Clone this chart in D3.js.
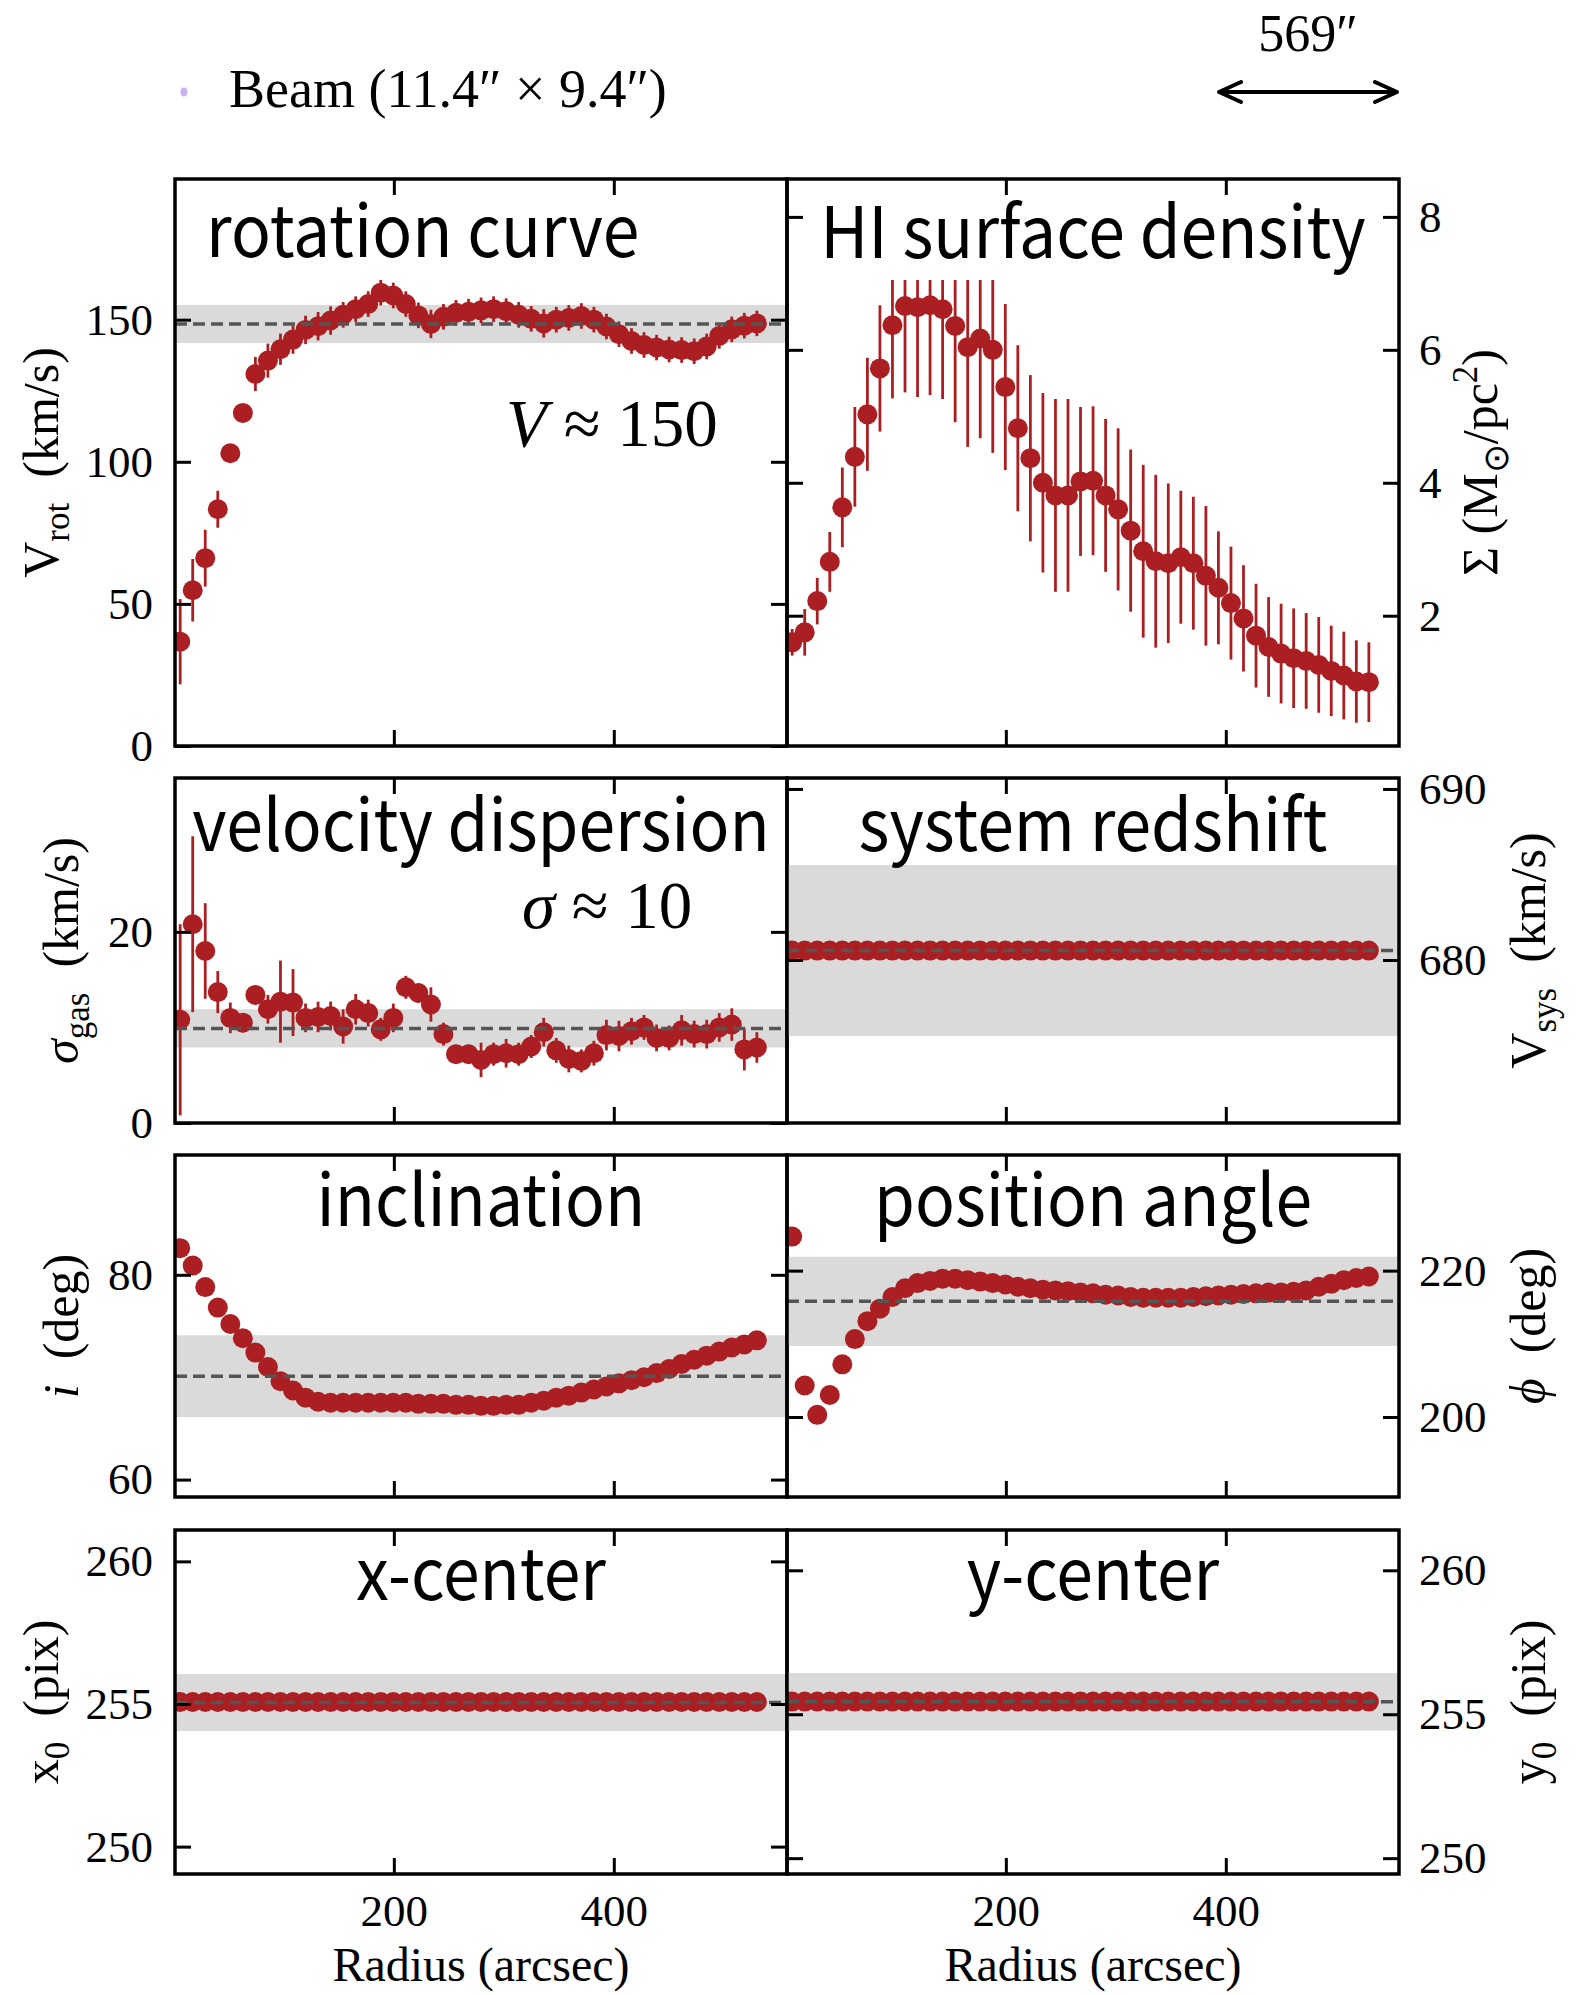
<!DOCTYPE html>
<html>
<head>
<meta charset="utf-8">
<script src="https://cdn.jsdelivr.net/npm/d3@7"></script>
<style>
  html, body { margin: 0; padding: 0; background: #ffffff; }
  svg { display: block; }
</style>
</head>
<body>
<svg id="fig" width="1580" height="1995"></svg>
<script>
// ---- ring radii (arcsec) ----
const radius = [5.7, 17.1, 28.5, 39.9, 51.3, 62.7, 74.1, 85.5, 96.9, 108.3,
  119.7, 131.1, 142.5, 153.9, 165.3, 176.7, 188.1, 199.5, 210.9, 222.3,
  233.7, 245.1, 256.5, 267.9, 279.3, 290.7, 302.1, 313.5, 324.9, 336.3,
  347.7, 359.1, 370.5, 381.9, 393.3, 404.7, 416.1, 427.5, 438.9, 450.3,
  461.7, 473.1, 484.5, 495.9, 507.3, 518.7, 530.1];

// ---- rotation curve (km/s) ----
const vRot = [36.7, 54.8, 66.1, 83.3, 103.0, 117.2, 130.9, 135.6, 139.6, 143.0,
  146.4, 147.7, 149.7, 151.7, 153.7, 155.5, 159.5, 158.5, 155.5, 151.5,
  148.5, 151.0, 152.4, 152.8, 153.3, 153.7, 153.0, 151.7, 150.3, 148.7,
  150.0, 150.6, 151.3, 150.0, 147.6, 144.9, 142.5, 141.1, 140.2, 139.5,
  139.3, 138.9, 140.6, 144.3, 146.6, 147.9, 148.7];
const vRotErr = [15, 11, 10, 6.5, 3, 3, 6, 6, 5.5, 5,
  5, 5, 5, 4.5, 4.5, 4.5, 4.5, 4.5, 4.5, 4.5,
  5, 4.5, 4.5, 4.5, 4.5, 4.5, 4.5, 4.5, 4.5, 5,
  4.5, 4.5, 4.5, 4.5, 4.5, 4.5, 4.5, 4.5, 4.5, 4.5,
  4.5, 4.5, 4.5, 4.5, 4.5, 4.5, 4.5];
const vRotFit = [148.5, 6.7];          // mean, half-width of shaded band

// ---- HI surface density (Msun/pc^2) ----
const sigmaHI = [1.60, 1.75, 2.22, 2.81, 3.63, 4.39, 5.03, 5.72, 6.37, 6.66,
  6.64, 6.67, 6.61, 6.36, 6.04, 6.17, 6.00, 5.44, 4.82, 4.37,
  4.00, 3.81, 3.81, 4.02, 4.03, 3.81, 3.60, 3.28, 2.97, 2.82,
  2.79, 2.88, 2.79, 2.60, 2.42, 2.19, 1.96, 1.70, 1.53, 1.43,
  1.36, 1.32, 1.26, 1.17, 1.10, 1.01, 1.00];
const sigmaHIErr = [0.2, 0.35, 0.35, 0.45, 0.6, 0.75, 0.85, 0.95, 1.1, 1.3,
  1.35, 1.35, 1.35, 1.45, 1.5, 1.5, 1.55, 1.25, 1.25, 1.25,
  1.35, 1.45, 1.45, 1.12, 1.12, 1.15, 1.22, 1.22, 1.3, 1.3,
  1.2, 1.0, 1.0, 1.05, 0.85, 0.85, 0.8, 0.78, 0.75, 0.75,
  0.75, 0.72, 0.72, 0.68, 0.66, 0.62, 0.6];
const sigmaHIErrCeiling = 7.05;

// ---- gas velocity dispersion (km/s) ----
const vDisp = [10.8, 20.8, 18.0, 13.7, 11.0, 10.5, 13.4, 11.9, 12.7, 12.6,
  11.0, 11.1, 11.2, 10.1, 11.9, 11.5, 9.8, 11.0, 14.2, 13.6,
  12.4, 9.3, 7.2, 7.2, 6.6, 7.2, 7.3, 7.2, 8.0, 9.5,
  7.6, 6.7, 6.5, 7.3, 9.2, 9.1, 9.6, 10.0, 8.9, 8.9,
  9.7, 9.3, 9.3, 10.0, 10.3, 7.7, 7.9];
const vDispErr = [10, 9.2, 5, 2.2, 1.6, 1.0, 1.0, 1.5, 4.3, 3.5,
  1.5, 1.6, 1.5, 1.8, 1.6, 1.4, 1.2, 1.5, 1.2, 1.0,
  1.8, 1.2, 1.0, 1.0, 1.8, 1.2, 1.5, 1.2, 1.2, 1.5,
  1.3, 1.4, 1.2, 1.3, 1.6, 1.6, 1.4, 1.3, 1.4, 1.3,
  1.6, 1.4, 1.5, 1.5, 1.7, 2.2, 1.6];
const vDispFit = [9.9, 2.0];

// ---- systemic velocity (km/s) ----
const vSys = [680.55, 680.55, 680.55, 680.55, 680.55, 680.55, 680.55, 680.55, 680.55, 680.55,
  680.55, 680.55, 680.55, 680.55, 680.55, 680.55, 680.55, 680.55, 680.55, 680.55,
  680.55, 680.55, 680.55, 680.55, 680.55, 680.55, 680.55, 680.55, 680.55, 680.55,
  680.55, 680.55, 680.55, 680.55, 680.55, 680.55, 680.55, 680.55, 680.55, 680.55,
  680.55, 680.55, 680.55, 680.55, 680.55, 680.55, 680.55];
const vSysFit = [680.55, 5.0];

// ---- inclination (deg) ----
const incl = [82.6, 80.9, 78.8, 76.8, 75.2, 73.8, 72.4, 71.0, 69.6, 68.7,
  68.0, 67.6, 67.5, 67.5, 67.5, 67.5, 67.5, 67.5, 67.5, 67.4,
  67.4, 67.4, 67.3, 67.3, 67.2, 67.2, 67.3, 67.3, 67.5, 67.7,
  68.0, 68.2, 68.5, 68.8, 69.1, 69.4, 69.7, 70.0, 70.4, 70.8,
  71.3, 71.7, 72.1, 72.5, 72.9, 73.2, 73.6];
const inclFit = [70.1, 4.0];

// ---- position angle (deg) ----
const posAngle = [224.65, 204.3, 200.3, 203.0, 207.2, 210.65, 213.1, 214.8, 216.4, 217.6,
  218.3, 218.6, 218.9, 218.9, 218.7, 218.5, 218.3, 218.1, 217.8, 217.6,
  217.4, 217.3, 217.2, 217.0, 216.9, 216.7, 216.6, 216.4, 216.3, 216.3,
  216.3, 216.3, 216.4, 216.5, 216.6, 216.7, 216.8, 216.9, 217.0, 217.0,
  217.1, 217.3, 217.8, 218.2, 218.7, 219.0, 219.2];
const posAngleFit = [215.8, 6.1];

// ---- kinematic centre (pix) ----
const xCenter = [255.07, 255.07, 255.07, 255.07, 255.07, 255.07, 255.07, 255.07, 255.07, 255.07,
  255.07, 255.07, 255.07, 255.07, 255.07, 255.07, 255.07, 255.07, 255.07, 255.07,
  255.07, 255.07, 255.07, 255.07, 255.07, 255.07, 255.07, 255.07, 255.07, 255.07,
  255.07, 255.07, 255.07, 255.07, 255.07, 255.07, 255.07, 255.07, 255.07, 255.07,
  255.07, 255.07, 255.07, 255.07, 255.07, 255.07, 255.07];
const xCenterFit = [255.05, 1.0];
const yCenter = [255.44, 255.44, 255.44, 255.44, 255.44, 255.44, 255.44, 255.44, 255.44, 255.44,
  255.44, 255.44, 255.44, 255.44, 255.44, 255.44, 255.44, 255.44, 255.44, 255.44,
  255.44, 255.44, 255.44, 255.44, 255.44, 255.44, 255.44, 255.44, 255.44, 255.44,
  255.44, 255.44, 255.44, 255.44, 255.44, 255.44, 255.44, 255.44, 255.44, 255.44,
  255.44, 255.44, 255.44, 255.44, 255.44, 255.44, 255.44];
const yCenterFit = [255.43, 1.0];

// ---- tick values ----
const radiusTicks = [200, 400];
const vRotTicks = [0, 50, 100, 150];
const sigmaHITicks = [2, 4, 6, 8];
const vDispTicks = [0, 20];
const vSysTicks = [680, 690];
const inclTicks = [60, 80];
const posAngleTicks = [200, 220];
const centerTicks = [250, 255, 260];

// ---- text ----
const beamLabel = "Beam (11.4\u2033 \u00d7 9.4\u2033)";
const scaleLabel = "569\u2033";
const radiusLabel = "Radius (arcsec)";

// ---------------------------------------------------------------------------
const RED = "#ab1f23";
const BAND = "#dadada";
const DASH = "#555555";
const SERIF = "'Liberation Serif', 'Times New Roman', serif";
const SANS = "'Noto Sans CJK SC', 'Noto Sans', sans-serif";
const TICK_FS = 45, YLABEL_FS = 50, XLABEL_FS = 48, TITLE_FS = 71, TITLE_SX = 0.93;
const TICK_LEN = 16, TICK_W = 3, FRAME_W = 3.5;
const DOT_R = 10;

const cols = [[175, 787], [787, 1399]];
const rows = [[179, 746], [778, 1123], [1155, 1497], [1530, 1874]];
const xDomain = [1, 557.5];

const svg = d3.select("#fig");

// label pieces: {t, sub, sup, it}
const seg = (t, o = {}) => Object.assign({ t }, o);
const GAP = "\u2002";
const panels = [
  { row: 0, col: 0, values: vRot, errors: vRotErr, fit: vRotFit, yDomain: [0, 199.5], ticks: vRotTicks,
    title: "rotation curve", titleAnchor: "start", titleX: 206, titleY: 257,
    ylabel: [seg("V"), seg("rot", { sub: true }), seg(GAP + "(km/s)")], labelX: 58 },
  { row: 0, col: 1, values: sigmaHI, errors: sigmaHIErr, errCeil: sigmaHIErrCeiling, yDomain: [0.04, 8.57], ticks: sigmaHITicks,
    title: "HI surface density", titleY: 258,
    ylabel: [seg("\u03a3 (M"), seg("\u2299", { sub: true }), seg("/pc"), seg("2", { sup: true }), seg(")")], labelX: 1497 },
  { row: 1, col: 0, values: vDisp, errors: vDispErr, fit: vDispFit, yDomain: [0, 36.1], ticks: vDispTicks,
    title: "velocity dispersion", titleY: 851,
    ylabel: [seg("\u03c3", { it: true }), seg("gas", { sub: true }), seg(GAP + "(km/s)")], labelX: 78 },
  { row: 1, col: 1, values: vSys, fit: vSysFit, yDomain: [670.47, 690.64], ticks: vSysTicks,
    title: "system redshift", titleY: 851,
    ylabel: [seg("V"), seg("sys", { sub: true }), seg(GAP + "(km/s)")], labelX: 1545 },
  { row: 2, col: 0, values: incl, fit: inclFit, yDomain: [58.3, 91.7], ticks: inclTicks,
    title: "inclination", titleY: 1226,
    ylabel: [seg("i", { it: true }), seg(GAP + "(deg)")], labelX: 78 },
  { row: 2, col: 1, values: posAngle, fit: posAngleFit, yDomain: [189.07, 235.8], ticks: posAngleTicks,
    title: "position angle", titleY: 1226,
    ylabel: [seg("\u03d5", { it: true }), seg(GAP + "(deg)")], labelX: 1545 },
  { row: 3, col: 0, values: xCenter, fit: xCenterFit, yDomain: [249.04, 261.1], ticks: centerTicks,
    title: "x-center", titleY: 1600,
    ylabel: [seg("x"), seg("0", { sub: true }), seg(GAP + "(pix)")], labelX: 58 },
  { row: 3, col: 1, values: yCenter, fit: yCenterFit, yDomain: [249.45, 261.4], ticks: centerTicks,
    title: "y-center", titleY: 1600,
    ylabel: [seg("y"), seg("0", { sub: true }), seg(GAP + "(pix)")], labelX: 1545 }
];

function addPieces(text, pieces, fs) {
  let shift = 0;
  pieces.forEach(p => {
    const small = p.sub || p.sup;
    const target = p.sub ? 0.22 * fs : p.sup ? -0.4 * fs : 0;
    const ts = text.append("tspan").text(p.t)
      .attr("font-size", small ? fs * 0.7 : fs)
      .attr("dy", target - shift);
    if (p.it) ts.attr("font-style", "italic");
    shift = target;
  });
}

function styleAxis(g, labels) {
  g.select(".domain").remove();
  g.selectAll(".tick line").attr("stroke", "#000").attr("stroke-width", TICK_W);
  g.selectAll(".tick text").attr("font-family", SERIF).attr("font-size", TICK_FS).attr("fill", "#000");
  if (!labels) g.selectAll(".tick text").remove();
}

panels.forEach((p, k) => {
  const [x0, x1] = cols[p.col];
  const [y0, y1] = rows[p.row];
  const x = d3.scaleLinear().domain(xDomain).range([x0, x1]);
  const y = d3.scaleLinear().domain(p.yDomain).range([y1, y0]);

  const clipId = "clip" + k;
  svg.append("clipPath").attr("id", clipId)
    .append("rect").attr("x", x0).attr("y", y0).attr("width", x1 - x0).attr("height", y1 - y0);
  const g = svg.append("g").attr("clip-path", `url(#${clipId})`);

  if (p.fit) {
    const [m, h] = p.fit;
    g.append("rect").attr("x", x0).attr("width", x1 - x0)
      .attr("y", y(m + h)).attr("height", y(m - h) - y(m + h)).attr("fill", BAND);
  }

  const pts = radius.map((r, i) => ({ r, v: p.values[i], e: p.errors ? p.errors[i] : 0 }));
  if (p.errors) {
    g.selectAll("line.err").data(pts).join("line").attr("class", "err")
      .attr("x1", d => x(d.r)).attr("x2", d => x(d.r))
      .attr("y1", d => y(p.errCeil !== undefined ? Math.min(d.v + d.e, p.errCeil) : d.v + d.e))
      .attr("y2", d => y(d.v - d.e))
      .attr("stroke", RED).attr("stroke-width", 2.8);
  }
  g.selectAll("circle.pt").data(pts).join("circle").attr("class", "pt")
    .attr("cx", d => x(d.r)).attr("cy", d => y(d.v)).attr("r", DOT_R).attr("fill", RED);

  if (p.fit) {
    g.append("line").attr("x1", x0).attr("x2", x1).attr("y1", y(p.fit[0])).attr("y2", y(p.fit[0]))
      .attr("stroke", DASH).attr("stroke-width", 3.5).attr("stroke-dasharray", "12,6");
  }

  // inward ticks on all four sides
  const left = svg.append("g").attr("transform", `translate(${x0},0)`)
    .call(d3.axisLeft(y).tickValues(p.ticks).tickSizeInner(-TICK_LEN).tickSizeOuter(0).tickPadding(22).tickFormat(d3.format("d")));
  styleAxis(left, p.col === 0);
  const right = svg.append("g").attr("transform", `translate(${x1},0)`)
    .call(d3.axisRight(y).tickValues(p.ticks).tickSizeInner(-TICK_LEN).tickSizeOuter(0).tickPadding(20).tickFormat(d3.format("d")));
  styleAxis(right, p.col === 1);
  const top = svg.append("g").attr("transform", `translate(0,${y0})`)
    .call(d3.axisTop(x).tickValues(radiusTicks).tickSizeInner(-TICK_LEN).tickSizeOuter(0));
  styleAxis(top, false);
  const bottom = svg.append("g").attr("transform", `translate(0,${y1})`)
    .call(d3.axisBottom(x).tickValues(radiusTicks).tickSizeInner(-TICK_LEN).tickSizeOuter(0).tickPadding(20).tickFormat(d3.format("d")));
  styleAxis(bottom, p.row === 3);

  svg.append("rect").attr("x", x0).attr("y", y0).attr("width", x1 - x0).attr("height", y1 - y0)
    .attr("fill", "none").attr("stroke", "#000").attr("stroke-width", FRAME_W);

  // panel title (slightly condensed sans)
  const tx = p.titleAnchor === "start" ? p.titleX : (x0 + x1) / 2;
  svg.append("text")
    .attr("transform", `translate(${tx},${p.titleY}) scale(${TITLE_SX},1)`)
    .attr("text-anchor", p.titleAnchor || "middle")
    .attr("font-family", SANS).attr("font-size", TITLE_FS).attr("fill", "#000")
    .text(p.title);

  // y-axis label
  const yl = svg.append("text")
    .attr("transform", `translate(${p.labelX},${(y0 + y1) / 2}) rotate(-90)`)
    .attr("text-anchor", "middle").attr("font-family", SERIF).attr("fill", "#000");
  addPieces(yl, p.ylabel, YLABEL_FS);

  if (p.row === 3) {
    svg.append("text").attr("x", (x0 + x1) / 2).attr("y", 1981).attr("text-anchor", "middle")
      .attr("font-family", SERIF).attr("font-size", XLABEL_FS).attr("fill", "#000").text(radiusLabel);
  }
});

// fit annotations
const annot = [
  { x: 506, y: 446, sym: "V" , val: "150" },
  { x: 522, y: 928, sym: "\u03c3", val: "10" }
];
annot.forEach(a => {
  const t = svg.append("text").attr("x", a.x).attr("y", a.y)
    .attr("font-family", SERIF).attr("font-size", 67).attr("fill", "#000");
  t.append("tspan").attr("font-style", "italic").text(a.sym);
  t.append("tspan").text(" \u2248 " + a.val);
});

// beam legend
svg.append("ellipse").attr("cx", 184).attr("cy", 92).attr("rx", 3.5).attr("ry", 4.5).attr("fill", "#c6b4f0");
svg.append("text").attr("x", 229).attr("y", 107).attr("font-family", SERIF).attr("font-size", 54)
  .attr("fill", "#000").text(beamLabel);

// angular scale bar
const ax0 = 1219, ax1 = 1397, ay = 92;
const arrow = d3.path();
arrow.moveTo(ax0, ay); arrow.lineTo(ax1, ay);
arrow.moveTo(ax0 + 22, ay - 10); arrow.lineTo(ax0, ay); arrow.lineTo(ax0 + 22, ay + 10);
arrow.moveTo(ax1 - 22, ay - 10); arrow.lineTo(ax1, ay); arrow.lineTo(ax1 - 22, ay + 10);
svg.append("path").attr("d", arrow.toString()).attr("fill", "none").attr("stroke", "#000")
  .attr("stroke-width", 4).attr("stroke-linejoin", "round").attr("stroke-linecap", "round");
svg.append("text").attr("x", (ax0 + ax1) / 2).attr("y", 51).attr("text-anchor", "middle")
  .attr("font-family", SERIF).attr("font-size", 52).attr("fill", "#000").text(scaleLabel);
</script>
</body>
</html>
